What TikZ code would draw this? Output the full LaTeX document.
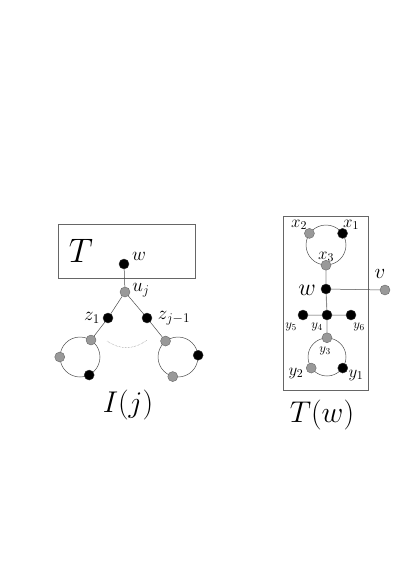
\RequirePackage{fix-cm}
\documentclass[tikz,border=0pt]{standalone}
\begin{document}
\begin{tikzpicture}[x=1pt,y=-1pt,
  bdot/.style={circle,fill=black,draw=black!80,inner sep=0pt,minimum size=10pt},
  gdot/.style={circle,fill=black!40,draw=black!60,inner sep=0pt,minimum size=10pt},
  edge/.style={draw=black!70,line width=0.5pt},
  gedge/.style={draw=black!45,line width=0.9pt},
  ring/.style={draw=black!70,line width=0.5pt},
  frame/.style={draw=black!60,line width=0.6pt},
  llbl/.style={inner sep=0pt,font=\fontsize{19}{22}\selectfont},
  lbl/.style={inner sep=0pt,font=\fontsize{17}{20}\selectfont},
  slbl/.style={inner sep=0pt,font=\fontsize{13}{15}\selectfont},
  blbl/.style={inner sep=0pt,font=\fontsize{24}{28}\selectfont},
  vlbl/.style={inner sep=0pt,font=\fontsize{21}{25}\selectfont},
  hlbl/.style={inner sep=0pt,font=\fontsize{30}{34}\selectfont},
  tlbl/.style={inner sep=0pt,font=\fontsize{34}{38}\selectfont}]
\useasboundingbox (0,0) rectangle (413,584);
% ---------- left: I(j) ----------
\node[frame,minimum width=137pt,minimum height=54pt,inner sep=0pt] (Tbox) at (126.5,251) {};
\node[tlbl] (Tl) at (81,251) {$T$};
% rings
\node[ring,circle,minimum size=40pt,inner sep=0pt] (LC) at (80,357) {};
\node[ring,circle,minimum size=40pt,inner sep=0pt] (RC) at (178,357) {};
\node[bdot] (w) at (124,264) {};
\node[gdot] (u) at (125,292) {};
\node[bdot] (z1) at (108,318) {};
\node[bdot] (zj) at (147,318) {};
\node[gdot] (l1) at (LC.57) {};
\node[gdot] (l2) at (LC.180) {};
\node[bdot] (l3) at (LC.-63) {};
\node[gdot] (r1) at (RC.128) {};
\node[bdot] (r2) at (RC.5) {};
\node[gdot] (r3) at (RC.-105) {};
\draw[edge] (w) -- (u) (u) -- (z1) (u) -- (zj) (z1) -- (l1) (zj) -- (r1);
\coordinate (da) at (107,341);
\coordinate (db) at (147,340);
\draw[draw=black!45,densely dotted,line width=0.5pt] (da) .. controls (120,350) and (134,350) .. (db);
\node[llbl] (wl) at (139,256) {$w$};
\node[llbl] (ul) at (141,290) {$u_j$};
\node[llbl] (z1l) at (92,318) {$z_1$};
\node[llbl] (zjl) at (174,318) {$z_{j-1}$};
\node[hlbl] (Il) at (128,405) {$I(j)$};
% ---------- right: T(w) ----------
\node[frame,minimum width=85pt,minimum height=174pt,inner sep=0pt] (TWbox) at (325.5,303) {};
\node[ring,circle,minimum size=40pt,inner sep=0pt] (TC) at (326,245) {};
\node[ring,circle,minimum size=38pt,inner sep=0pt] (BC) at (327,357) {};
\node[gdot] (x2) at (TC.145) {};
\node[bdot] (x1) at (TC.35) {};
\node[gdot] (x3) at (TC.-90) {};
\node[bdot] (ww) at (326,289) {};
\node[gdot] (v) at (385,290) {};
\node[bdot] (y4) at (327,315) {};
\node[bdot] (y5) at (303,315) {};
\node[bdot] (y6) at (351,315) {};
\node[gdot] (y3) at (BC.90) {};
\node[gdot] (y2) at (BC.215) {};
\node[bdot] (y1) at (BC.-35) {};
\draw[gedge] (x3) -- (ww) (ww) -- (y4) (y4) -- (y3);
\draw[edge] (ww) -- (v) (y5) -- (y4) (y4) -- (y6);
\node[lbl] (x2l) at (299,225) {$x_2$};
\node[lbl] (x1l) at (351,225) {$x_1$};
\node[lbl] (x3l) at (326,257) {$x_3$};
\node[blbl] (wwl) at (307,290) {$w$};
\node[vlbl] (vl) at (380,274) {$v$};
\node[slbl] (y5l) at (291,327) {$y_5$};
\node[slbl] (y4l) at (317,327) {$y_4$};
\node[slbl] (y6l) at (359,327) {$y_6$};
\node[slbl] (y3l) at (325,351) {$y_3$};
\node[lbl] (y2l) at (296,373) {$y_2$};
\node[lbl] (y1l) at (356,375) {$y_1$};
\node[hlbl] (TWl) at (322,415) {$T(w)$};
\end{tikzpicture}
\end{document}
